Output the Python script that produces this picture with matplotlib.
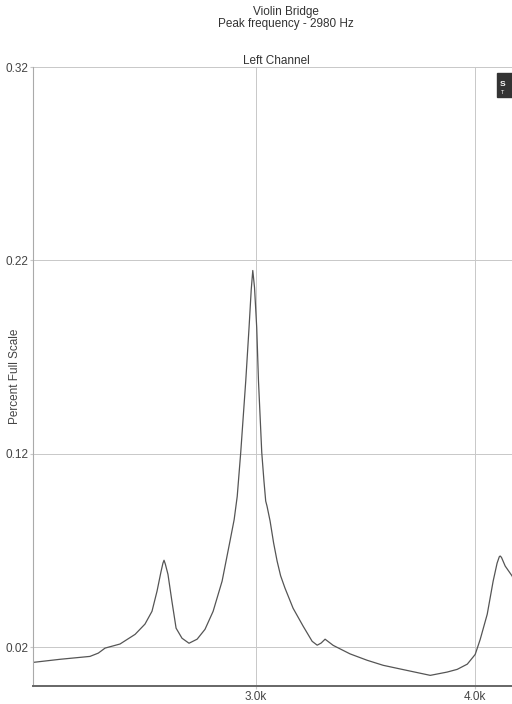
import matplotlib
matplotlib.use("Agg")
from matplotlib import pyplot as plt
from matplotlib.patches import Rectangle

plt.rcParams['font.family'] = ['Liberation Sans', 'DejaVu Sans']

# frequency (Hz) and level
freq = [1982, 2105, 2242, 2280, 2311, 2379, 2448, 2493, 2525, 2548, 2566,
        2575, 2580, 2586, 2598, 2616, 2635, 2662, 2694, 2731, 2767, 2804,
        2845, 2881, 2900, 2914, 2930, 2953, 2968, 2978, 2985, 2993, 3003,
        3011, 3026, 3036, 3044, 3050, 3064, 3080, 3096, 3112, 3132, 3169,
        3215, 3256, 3279, 3297, 3315, 3352, 3429, 3507, 3580, 3658, 3795,
        3872, 3918, 3964, 4000, 4023, 4055, 4082, 4100, 4110, 4114, 4120,
        4137, 4169, 4219]
level = [0.0122, 0.0138, 0.0153, 0.0170, 0.0196, 0.0217, 0.0267, 0.0320,
         0.0386, 0.0490, 0.0590, 0.0635, 0.0650, 0.0630, 0.0577, 0.0438,
         0.0299, 0.0247, 0.0221, 0.0242, 0.0293, 0.0386, 0.0542, 0.0749,
         0.0860, 0.0980, 0.1207, 0.1578, 0.1853, 0.2050, 0.2148, 0.2060,
         0.1853, 0.1578, 0.1207, 0.1060, 0.0956, 0.0930, 0.0853, 0.0740,
         0.0646, 0.0570, 0.0506, 0.0402, 0.0309, 0.0231, 0.0211, 0.0222,
         0.0242, 0.0210, 0.0166, 0.0133, 0.0107, 0.0088, 0.0055, 0.0072,
         0.0086, 0.0113, 0.0163, 0.0241, 0.0371, 0.0542, 0.0635, 0.0668,
         0.0672, 0.0665, 0.0620, 0.0568, 0.0400]

y_ticks = [0.02, 0.12, 0.22, 0.32]
x_ticks = [3000, 4000]
x_labels = ["3.0k", "4.0k"]

fig = plt.figure(figsize=(5.12, 7.04), dpi=100)
ax = fig.add_axes([33/512, 1 - 686/704, 486/512, 619/704])

ax.plot(freq, level, color="#555555", linewidth=0.9)
ax.set_xlim(1982, 4200)
ax.set_ylim(0, 0.32)
ax.set_yticks(y_ticks)
ax.set_yticklabels(["%.2f" % v for v in y_ticks])
ax.set_xticks(x_ticks)
ax.set_xticklabels(x_labels)
ax.grid(True, color="#c8c8c8", linewidth=0.7)
ax.tick_params(axis="both", length=2, color="#c8c8c8", labelsize=8.5,
               labelcolor="#444444", pad=1.5)

ax.spines["top"].set_visible(False)
ax.spines["right"].set_visible(False)
ax.spines["left"].set_color("#aaaaaa")
ax.spines["left"].set_linewidth(0.8)
ax.spines["bottom"].set_color("#666666")
ax.spines["bottom"].set_linewidth(1.4)

ax.set_ylabel("Percent Full Scale", fontsize=8.5, color="#444444")
ax.yaxis.set_label_coords(-0.024, 0.5)
ax.set_title("Left Channel", fontsize=8.5, color="#333333", pad=2)

fig.text(286/512, 1 - 12/704, "Violin Bridge", ha="center", va="center",
         fontsize=8.5, color="#333333")
fig.text(286/512, 1 - 24/704, "Peak frequency - 2980 Hz", ha="center",
         va="center", fontsize=8.5, color="#333333")

# small dark badge at the top right corner
fig.patches.append(Rectangle((497/512, 1 - 97/704), 15/512, 24/704,
                             transform=fig.transFigure, color="#333333"))
fig.text(503/512, 1 - 84/704, "S", ha="center", va="center", fontsize=6,
         color="white", weight="bold")
fig.text(503/512, 1 - 93/704, "T", ha="center", va="center", fontsize=4,
         color="white")

fig.savefig("out.png", dpi=100)
